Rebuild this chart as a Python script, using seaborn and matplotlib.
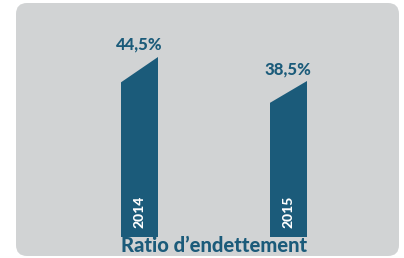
import matplotlib
matplotlib.use("Agg")
import matplotlib.pyplot as plt
from matplotlib.patches import FancyBboxPatch, Polygon
import seaborn as sns
import pandas as pd

# data
years = ["2014", "2015"]
ratios = [44.5, 38.5]
value_labels = ["44,5%", "38,5%"]
title = "Ratio d\u2019endettement"

teal = "#1b5b7a"
grey = "#d1d3d4"

sns.set_theme(style="white")
plt.rcParams['font.family'] = ['Lato', 'DejaVu Sans']

df = pd.DataFrame({"year": years, "ratio": ratios})

fig = plt.figure(figsize=(4.04, 2.58), dpi=100)
fig.patch.set_facecolor("white")

# grey rounded panel behind everything (pixel coords)
panel = FancyBboxPatch((16, 2), 383, 253, boxstyle="round,pad=0,rounding_size=11",
                       transform=None, facecolor=grey, edgecolor="none", zorder=-1)
fig.patches.append(panel)

ax = fig.add_axes([16 / 404, 21 / 258, 383 / 404, 202 / 258])
ax.set_zorder(2)
ax.patch.set_alpha(0)
sns.barplot(data=df, x="year", y="ratio", color=teal, width=0.25, saturation=1,
            linewidth=0, edgecolor="none", ax=ax)
ax.set_xlim(-0.832, 1.747)
ax.set_ylim(0, 50)
ax.axis("off")

# cut the top-left corner of every bar to get the slanted top
slant = 0.145
for bar, lab, yr in zip(list(ax.patches), value_labels, years):
    x0 = bar.get_x()
    w = bar.get_width()
    h = bar.get_height()
    tri = Polygon([(x0 - 0.01, h * (1 - slant)), (x0 - 0.01, h + 1), (x0 + w, h + 1), (x0 + w, h)],
                  closed=True, facecolor=grey, edgecolor="none", zorder=5)
    ax.add_patch(tri)
    ax.text(x0 + w / 2, h + 1.1, lab, ha="center", va="bottom", color=teal,
            fontsize=12, fontweight="black", zorder=6)
    ax.text(x0 + w / 2, 2.3, yr, ha="center", va="bottom", color="white",
            fontsize=10, fontweight="black", rotation=90, zorder=6)

fig.text(214 / 404, 1 - 245 / 258, title, ha="center", va="center", color=teal,
         fontsize=14.5, fontweight="black")

fig.savefig("out.png", dpi=100)
